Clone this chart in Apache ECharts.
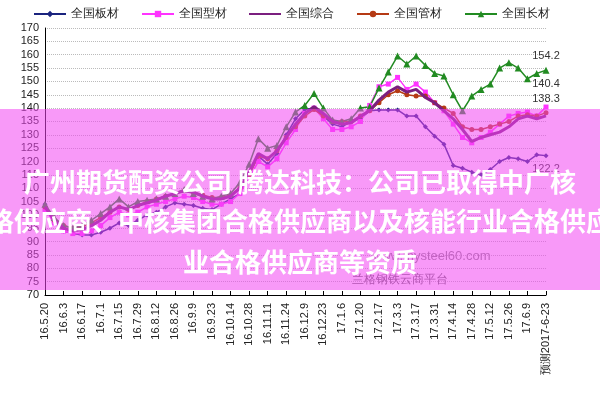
<!DOCTYPE html><html><head><meta charset="utf-8">
<script src="https://cdn.jsdelivr.net/npm/echarts@6/dist/echarts.min.js"></script>
<style>html,body{margin:0;background:#fff}#c{width:600px;height:400px}</style></head><body><div id="c"></div>
<script>
const seriesNames=['全国板材','全国型材','全国综合','全国管材','全国长材'];
const categories=['16.5.20','16.5.27','16.6.3','16.6.10','16.6.17','16.6.24','16.7.1','16.7.8','16.7.15','16.7.22','16.7.29','16.8.5','16.8.12','16.8.19','16.8.26','16.9.2','16.9.9','16.9.14','16.9.23','16.9.30','16.10.14','16.10.21','16.10.28','16.11.4','16.11.11','16.11.18','16.11.24','16.12.2','16.12.9','16.12.16','16.12.23','16.12.30','17.1.6','17.1.13','17.1.20','17.2.10','17.2.17','17.2.24','17.3.3','17.3.10','17.3.17','17.3.24','17.3.31','17.4.7','17.4.14','17.4.21','17.4.28','17.5.5','17.5.12','17.5.19','17.5.26','17.6.2','17.6.9','17.6.16','预测2017-6-23'];
const banCai=[104,97,94,93,92.5,92.5,93.5,95,97,96,98,100,101,103,104.5,104,103.5,102.5,102,104,106,108,115,122,119,123,130,136,139.5,140,137,134,133,135,136,139,139.3,139.3,139.3,137,137,133,129.5,126.5,118.5,117.5,116,115,117,120,121.5,121,120,122.5,122.2];
const xingCai=[102,97,94,93,93,94,96,99,101,100,101,103,104,105,106,107,106.5,105,104,104,105,108,114,120,118,121,127,132,138,140,136,132,132,133,135,141,148,149,151.5,147,149,146,142,139,134,129,127,129,131,134,137,138,138.5,137,140.4];
const zongHe=[103,98,95,94,94.5,96,98,101,103,102,103.5,104.5,105.5,107,108,109,108.5,107,106,106,107,110,116,123,121,124,129,134,138,140.5,138,135,134,134.5,137,139,143,146,148,146,147,144,142,139,136,132,127.5,129,130,131,133,136,137,136,137.1];
const guanCai=[103,98,96,95,95.5,97,99,101,103,102,103.5,105,106,107,108,109,108.5,107.5,106.5,106.5,107.5,110,115,122,121,124,129,133,137,139.5,137,135,135,135,137,139,142,145,146.5,145,144.5,144.5,142,140,138,133,132,132,133,134,135,137,137.5,137,138.3];
const changCai=[104,99,96,95,96,98,100.5,103,106,103,105,105.5,106,107,108,109.5,108,107,106,107,108,112,119,128.5,125,126,133,138.5,141,145.5,140,135.5,135,136,140,140.5,147.5,153.5,159.5,156.5,159.5,156,153,152,145,139,144.5,147,149,155,157,155,151,153,154.2];
const lastLabelPos=['bottom','top','bottom','top','top'];
const lastLabelOff=[[0,0],[0,-10],[0,2],[0,-1],[0,0]];
const colors=['#1a237e','#ff33ff','#7b1f7f','#b53a14','#228b22'];
const symbols=['diamond','rect','none','circle','triangle'];
const datas=[banCai,xingCai,zongHe,guanCai,changCai];
const N=categories.length;
const showIdx=i=>i%2===0||i===N-1;
const series=datas.map((d,k)=>({name:seriesNames[k],type:'line',data:d.map((v,i)=>i===N-1?{value:v,label:{show:true,position:lastLabelPos[k],offset:lastLabelOff[k],formatter:'{c}',color:'#333',fontSize:11,fontFamily:'Liberation Sans'}}:v),
 symbol:symbols[k],symbolSize:k===4?7:5,showSymbol:k!==2,showAllSymbol:true,lineStyle:{width:k===2?3:1.5,color:colors[k]},itemStyle:{color:colors[k]},z:k===2?3:2}));
const c=echarts.init(document.getElementById('c'));
c.setOption({animation:false,
legend:{top:3,left:28,itemGap:22,itemWidth:32,itemHeight:8,textStyle:{fontSize:12,color:'#222'},
 data:seriesNames.map((n,k)=>k===2?{name:n,icon:'path://M0,3h40v2.6h-40zM0,0h0.01v8.6h-0.01z'}:{name:n})},
grid:{left:45,right:54,top:28,bottom:105},
xAxis:{type:'category',data:categories,boundaryGap:false,axisLine:{lineStyle:{color:'#000'}},axisTick:{interval:(i)=>showIdx(i),inside:true,length:4,lineStyle:{color:'#000'}},
 axisLabel:{interval:(i)=>showIdx(i),rotate:90,fontSize:11,color:'#222',fontFamily:'Liberation Sans'}},
yAxis:{type:'value',min:70,max:170,interval:5,axisLine:{show:true,lineStyle:{color:'#000'}},axisTick:{show:false},axisLabel:{fontSize:11,color:'#222',margin:6},splitLine:{lineStyle:{type:'dotted',color:'#bbb'}}},
series:series,
graphic:[
 {type:'text',left:372,top:250,style:{text:'www.mysteel60.com',fontSize:13,fill:'#888'},z:50},
 {type:'text',left:352,top:274,style:{text:'兰格钢铁云商平台',fontSize:12,fill:'#666'},z:50},
 {type:'rect',shape:{x:0,y:109,width:600,height:181},style:{fill:'rgba(242,70,242,0.55)'},z:100},
 {type:'text',x:300,y:182,style:{text:'广州期货配资公司 腾达科技：公司已取得中广核',fontSize:26,fontWeight:'bold',fill:'#fff',align:'center',verticalAlign:'middle',fontFamily:'Noto Sans CJK SC'},z:101},
 {type:'text',x:300,y:221,style:{text:'格供应商、中核集团合格供应商以及核能行业合格供应',fontSize:26,fontWeight:'bold',fill:'#fff',align:'center',verticalAlign:'middle',fontFamily:'Noto Sans CJK SC'},z:101},
 {type:'text',x:300,y:262,style:{text:'业合格供应商等资质',fontSize:26,fontWeight:'bold',fill:'#fff',align:'center',verticalAlign:'middle',fontFamily:'Noto Sans CJK SC'},z:101}
]});
</script></body></html>
